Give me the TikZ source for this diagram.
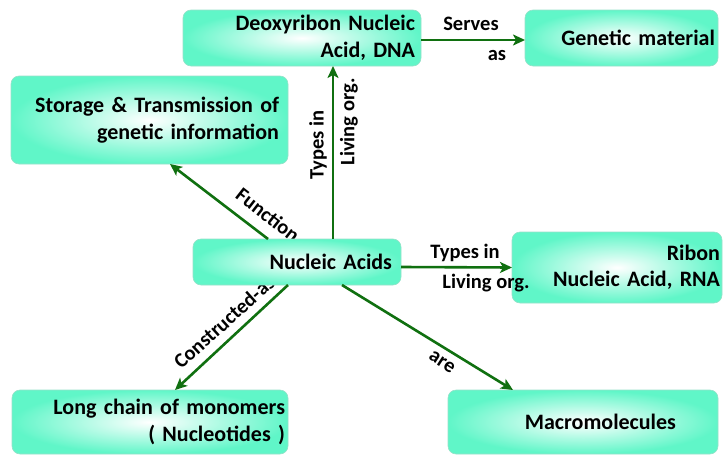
\documentclass[tikz,border=0pt]{standalone}
\usepackage{fontspec}
\setmainfont{Carlito}
\usetikzlibrary{arrows.meta}
\definecolor{aqua}{RGB}{96,246,200}
\definecolor{aquaedge}{RGB}{150,225,200}
\definecolor{linkgreen}{RGB}{16,112,16}
\tikzset{
  x=1pt, y=-1pt,
  concept/.style={rounded corners=8pt, draw=aquaedge, line width=0.6pt,
    inner color=white, outer color=aqua, anchor=north west,
    font=\bfseries\fontsize{22}{26.5}\selectfont, align=right,
    inner ysep=0pt, outer sep=0pt},
  link/.style={draw=linkgreen, line width=2.6pt,
    -{Stealth[length=12pt,width=11pt,inset=3pt]}},
  lbl/.style={font=\bfseries\fontsize{20.5}{22}\selectfont, inner sep=1pt}
}
% concept box: name, x, y, width, height, right padding, text
\newcommand\conceptbox[7]{%
  \node[concept, minimum width=#4pt, minimum height=#5pt,
        inner xsep=#6pt, text width=#4pt-2*#6pt] (#1) at (#2,#3) {#7};}
\begin{document}
\begin{tikzpicture}
\useasboundingbox (0,0) rectangle (726,458);

% labels that sit partly under the central box are drawn first
\node[lbl, rotate=-38] (lfunc) at (268,215) {Function};
\node[lbl, rotate=42] (lcons) at (224,322) {Constructed-as};

\conceptbox{dna}{183}{10}{238}{56}{6}{Deoxyribon Nucleic\\Acid, DNA}
\conceptbox{gen}{525}{10}{193}{56}{3}{Genetic material}
\conceptbox{sto}{11}{76}{277}{88}{9}{Storage \& Transmission of\\genetic information}
\conceptbox{nuc}{193}{239}{208}{46}{9}{Nucleic Acids}
\conceptbox{rna}{512}{232}{210}{71}{2}{Ribon\\Nucleic Acid, RNA}
\conceptbox{mono}{12}{390}{276}{64}{3}{Long chain of monomers\\( Nucleotides )}
\conceptbox{macro}{448}{390}{270}{64}{42}{Macromolecules}

% connectors
\draw[link] ([yshift=-2pt]dna.east) -- ([yshift=-2pt]gen.west);
\draw[link] ([xshift=36pt]nuc.north) -- ([xshift=31pt]dna.south);
\draw[link] ([xshift=-29pt]nuc.north) -- ([xshift=20.5pt]sto.south);
\draw[link] ([yshift=-5pt]nuc.east) -- (rna.west);
\draw[link] ([xshift=-9pt]nuc.south) -- ([xshift=25pt]mono.north);
\draw[link] ([xshift=45pt]nuc.south) -- ([xshift=-70pt]macro.north);

% connector labels
\node[lbl] (lserves) at (471,24) {Serves};
\node[lbl] (las) at (497,56) {as};
\node[lbl, rotate=90] (ltypes1) at (318,145) {Types in};
\node[lbl, rotate=90] (lliving1) at (349,122) {Living org.};
\node[lbl] (ltypes2) at (465,253) {Types in};
\node[lbl] (lliving2) at (486,283) {Living org.};
\node[lbl, rotate=-33] (lare) at (442,362) {are};
\end{tikzpicture}
\end{document}
